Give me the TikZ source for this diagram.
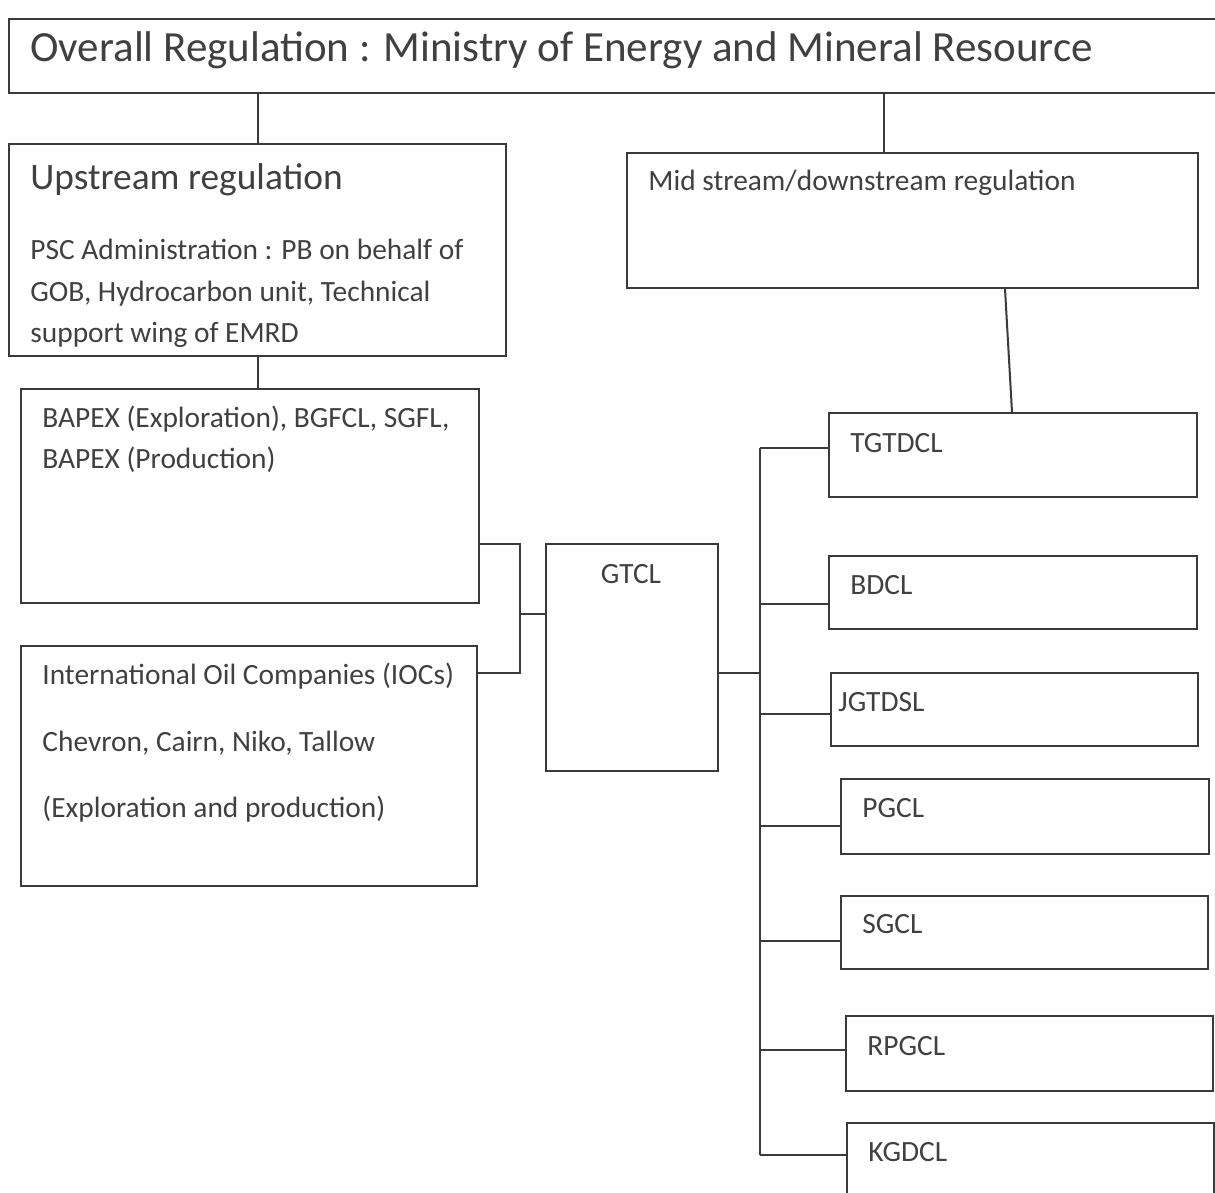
\documentclass[tikz,border=0pt]{standalone}
\usepackage{fontspec}
\setmainfont{Carlito}
\usetikzlibrary{calc}
\definecolor{ln}{HTML}{3A3A3A}
\definecolor{tx}{HTML}{404040}
\tikzset{
  box/.style={draw=ln, line width=1pt, rectangle, inner sep=0pt, anchor=north west},
  lbl/.style={anchor=base west, inner sep=0pt, text=tx},
  big/.style={lbl, font=\fontsize{21.5}{24}\selectfont},
  mid/.style={lbl, font=\fontsize{18.7}{21}\selectfont},
  sm/.style={lbl, font=\fontsize{14.7}{17}\selectfont},
  conn/.style={draw=ln, line width=1pt}
}
\begin{document}
\begin{tikzpicture}[x=0.5pt,y=-0.5pt]
\useasboundingbox (0,0) rectangle (1215,1193);
% boxes
\node[box, minimum width=610pt, minimum height=37pt] (top) at (8,18) {};
\node[box, minimum width=248.5pt, minimum height=106pt] (up) at (8,143) {};
\node[box, minimum width=285.5pt, minimum height=67.5pt] (mid) at (626,152) {};
\node[box, minimum width=229pt, minimum height=107pt] (bap) at (20,388) {};
\node[box, minimum width=228pt, minimum height=120pt] (ioc) at (20,645) {};
\node[box, minimum width=86pt, minimum height=113.5pt] (gt) at (545,543) {};
\node[box, minimum width=184pt, minimum height=42pt] (tg) at (828,412) {};
\node[box, minimum width=184pt, minimum height=36.5pt] (bd) at (828,555) {};
\node[box, minimum width=183.5pt, minimum height=36.5pt] (jg) at (830,672) {};
\node[box, minimum width=184pt, minimum height=37.5pt] (pg) at (840,778) {};
\node[box, minimum width=183.5pt, minimum height=36.5pt] (sg) at (840,895) {};
\node[box, minimum width=183.5pt, minimum height=37.5pt] (rp) at (845,1015) {};
\node[box, minimum width=183.5pt, minimum height=40pt] (kg) at (846,1122) {};
% texts
\node[big] (tTop) at (30,62) {Overall Regulation : Ministry of Energy and Mineral Resource};
\node[mid] (tUp1) at (30,190) {Upstream regulation};
\node[sm] (tUp2) at (30,259) {PSC Administration : PB on behalf of};
\node[sm] (tUp3) at (30,301) {GOB, Hydrocarbon unit, Technical};
\node[sm] (tUp4) at (30,342) {support wing of EMRD};
\node[sm] (tMid) at (648,191) {Mid stream/downstream regulation};
\node[sm] (tBap1) at (42,427) {BAPEX (Exploration), BGFCL, SGFL,};
\node[sm] (tBap2) at (42,468) {BAPEX (Production)};
\node[sm] (tIoc1) at (42,684) {International Oil Companies (IOCs)};
\node[sm] (tIoc2) at (42,751) {Chevron, Cairn, Niko, Tallow};
\node[sm] (tIoc3) at (42,817) {(Exploration and production)};
\node[sm, anchor=base] (tGt) at (631,583) {GTCL};
\node[sm] (tTg) at (850,452) {TGTDCL};
\node[sm] (tBd) at (850,594) {BDCL};
\node[sm] (tJg) at (838,711) {JGTDSL};
\node[sm] (tPg) at (862,817) {PGCL};
\node[sm] (tSg) at (862,933) {SGCL};
\node[sm] (tRp) at (867,1055) {RPGCL};
\node[sm] (tKg) at (868,1161) {KGDCL};
% connectors
\draw[conn] (up.north) -- (up.north |- top.south);
\draw[conn] ($(mid.north west)+(258,0)$) coordinate (m1) -- (m1 |- top.south);
\draw[conn] ($(up.south west)+(250,0)$) coordinate (u1) -- (u1 |- bap.north);
\draw[conn] ($(mid.south west)+(379,0)$) -- ($(tg.north west)+(184,0)$);
% bracket
\coordinate (brk) at (520,614);
\coordinate (b1) at ($(bap.south east)+(0,-60)$);
\coordinate (b2) at ($(ioc.north east)+(0,28)$);
\draw[conn] (b1) -- (b1 -| brk) -- (b2 -| brk) -- (b2);
\draw[conn] (brk) -- (brk -| gt.west);
% bus
\coordinate (busT) at (760,448);
\coordinate (busB) at (760,1155);
\draw[conn] (busT) -- (busB);
\draw[conn] ($(gt.north east)+(0,130)$) coordinate (g1) -- (g1 -| busT);
\draw[conn] ($(tg.north west)+(0,36)$) coordinate (c1) -- (c1 -| busT);
\draw[conn] ($(bd.north west)+(0,49)$) coordinate (c2) -- (c2 -| busT);
\draw[conn] ($(jg.north west)+(0,42)$) coordinate (c3) -- (c3 -| busT);
\draw[conn] ($(pg.north west)+(0,48)$) coordinate (c4) -- (c4 -| busT);
\draw[conn] ($(sg.north west)+(0,46)$) coordinate (c5) -- (c5 -| busT);
\draw[conn] ($(rp.north west)+(0,35)$) coordinate (c6) -- (c6 -| busT);
\draw[conn] ($(kg.north west)+(0,33)$) coordinate (c7) -- (c7 -| busT);
\end{tikzpicture}
\end{document}
